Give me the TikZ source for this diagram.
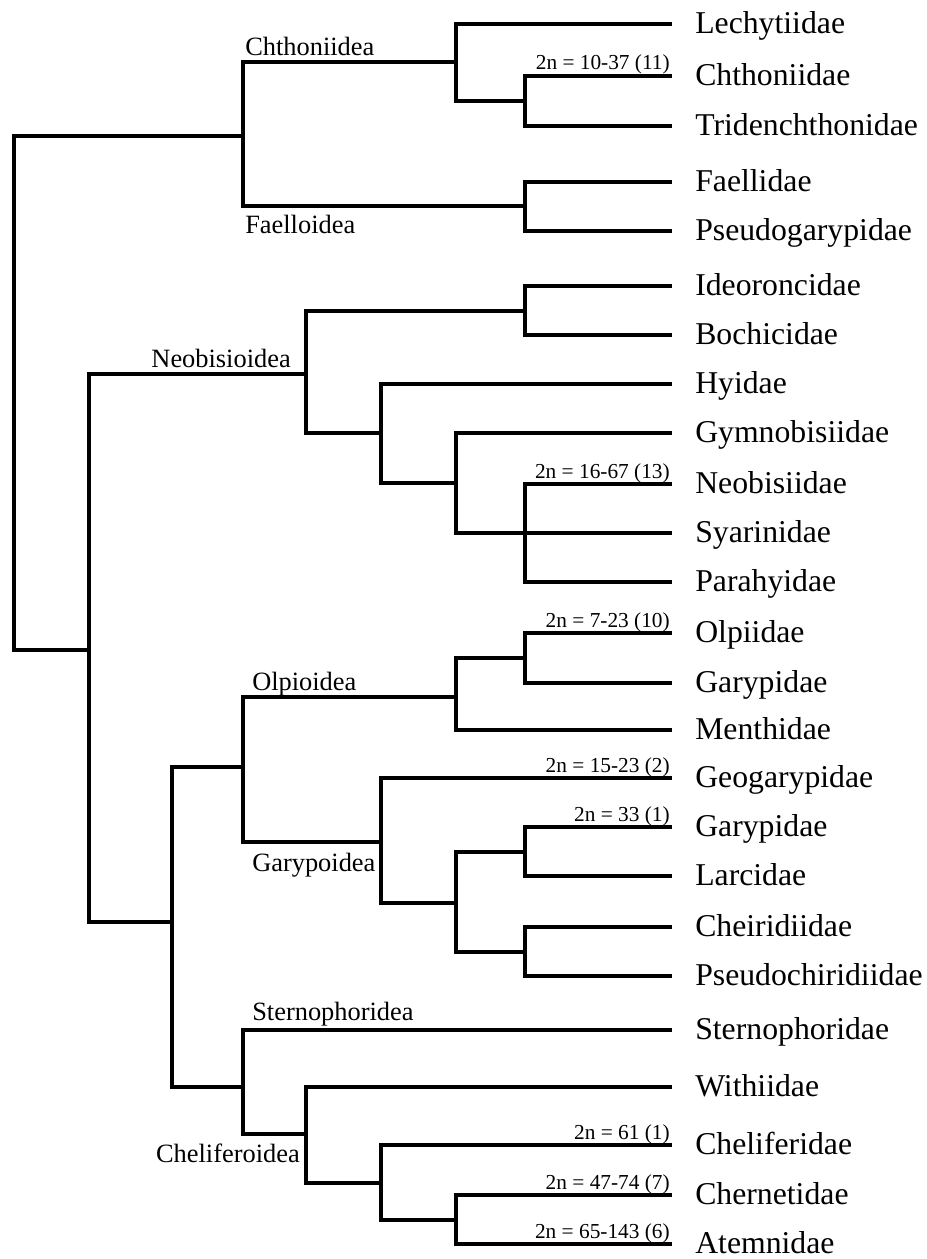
\documentclass[tikz,border=0pt]{standalone}
\usepackage{fontspec}
\setmainfont{Liberation Serif}

\begin{document}
\begin{tikzpicture}[x=0.75pt, y=-0.75pt,
	branch/.style={line width=3.3pt, line join=miter},
	family/.style={anchor=west, inner xsep=17.25pt, inner ysep=0pt, text height=17pt, text depth=3.3pt, font=\fontsize{23.8}{26}\selectfont},
	clade/.style={inner sep=0pt, font=\fontsize{19.8}{22}\selectfont},
	karyo/.style={inner sep=0pt, anchor=base east, font=\fontsize{16}{18}\selectfont}]
	\useasboundingbox (0, 0) rectangle (926, 1259);

	\node[family] (lechytiidae) at (672, 24) {Lechytiidae};
	\node[family] (chthoniidae) at (672, 76) {Chthoniidae};
	\node[family] (tridenchthonidae) at (672, 126) {Tridenchthonidae};
	\node[family] (faellidae) at (672, 182) {Faellidae};
	\node[family] (pseudogarypidae) at (672, 231) {Pseudogarypidae};
	\node[family] (ideoroncidae) at (672, 286) {Ideoroncidae};
	\node[family] (bochicidae) at (672, 335) {Bochicidae};
	\node[family] (hyidae) at (672, 384) {Hyidae};
	\node[family] (gymnobisiidae) at (672, 433) {Gymnobisiidae};
	\node[family] (neobisiidae) at (672, 484) {Neobisiidae};
	\node[family] (syarinidae) at (672, 533) {Syarinidae};
	\node[family] (parahyidae) at (672, 582) {Parahyidae};
	\node[family] (olpiidae) at (672, 633) {Olpiidae};
	\node[family] (garypidae-a) at (672, 683) {Garypidae};
	\node[family] (menthidae) at (672, 730) {Menthidae};
	\node[family] (geogarypidae) at (672, 778) {Geogarypidae};
	\node[family] (garypidae-b) at (672, 827) {Garypidae};
	\node[family] (larcidae) at (672, 876) {Larcidae};
	\node[family] (cheiridiidae) at (672, 927) {Cheiridiidae};
	\node[family] (pseudochiridiidae) at (672, 976) {Pseudochiridiidae};
	\node[family] (sternophoridae) at (672, 1030) {Sternophoridae};
	\node[family] (withiidae) at (672, 1087) {Withiidae};
	\node[family] (cheliferidae) at (672, 1145) {Cheliferidae};
	\node[family] (chernetidae) at (672, 1195) {Chernetidae};
	\node[family] (atemnidae) at (672, 1244) {Atemnidae};

	\coordinate (c-chth) at (525, 101);
	\coordinate (c-lech) at (456, 62);
	\coordinate (c-faell) at (525, 206);
	\coordinate (c-chthoniidea) at (243, 136);
	\coordinate (c-ideor) at (525, 311);
	\coordinate (c-neob) at (525, 533);
	\coordinate (c-gymno) at (456, 483);
	\coordinate (c-hyid) at (381, 433);
	\coordinate (c-neobisioidea) at (306, 374);
	\coordinate (c-olpi) at (525, 658);
	\coordinate (c-olpioidea) at (456, 697);
	\coordinate (c-gary) at (525, 852);
	\coordinate (c-cheir) at (525, 952);
	\coordinate (c-larc) at (456, 903);
	\coordinate (c-garypoidea) at (381, 842);
	\coordinate (c-olpgar) at (243, 767);
	\coordinate (c-chern) at (456, 1220);
	\coordinate (c-chelif) at (381, 1183);
	\coordinate (c-withi) at (306, 1134);
	\coordinate (c-ster) at (243, 1087);
	\coordinate (c-lower) at (172, 922);
	\coordinate (c-mid) at (89, 650);
	\coordinate (c-root) at (14, 393);

	\draw[branch] (c-chth) |- (chthoniidae.west) (c-chth) |- (tridenchthonidae.west);
	\draw[branch] (c-lech) |- (lechytiidae.west) (c-lech) |- (c-chth);
	\draw[branch] (c-faell) |- (faellidae.west) (c-faell) |- (pseudogarypidae.west);
	\draw[branch] (c-chthoniidea) |- (c-lech) (c-chthoniidea) |- (c-faell);
	\draw[branch] (c-ideor) |- (ideoroncidae.west) (c-ideor) |- (bochicidae.west);
	\draw[branch] (c-neob) |- (neobisiidae.west) (c-neob) |- (syarinidae.west) (c-neob) |- (parahyidae.west);
	\draw[branch] (c-gymno) |- (gymnobisiidae.west) (c-gymno) |- (c-neob);
	\draw[branch] (c-hyid) |- (hyidae.west) (c-hyid) |- (c-gymno);
	\draw[branch] (c-neobisioidea) |- (c-ideor) (c-neobisioidea) |- (c-hyid);
	\draw[branch] (c-olpi) |- (olpiidae.west) (c-olpi) |- (garypidae-a.west);
	\draw[branch] (c-olpioidea) |- (c-olpi) (c-olpioidea) |- (menthidae.west);
	\draw[branch] (c-gary) |- (garypidae-b.west) (c-gary) |- (larcidae.west);
	\draw[branch] (c-cheir) |- (cheiridiidae.west) (c-cheir) |- (pseudochiridiidae.west);
	\draw[branch] (c-larc) |- (c-gary) (c-larc) |- (c-cheir);
	\draw[branch] (c-garypoidea) |- (geogarypidae.west) (c-garypoidea) |- (c-larc);
	\draw[branch] (c-olpgar) |- (c-olpioidea) (c-olpgar) |- (c-garypoidea);
	\draw[branch] (c-chern) |- (chernetidae.west) (c-chern) |- (atemnidae.west);
	\draw[branch] (c-chelif) |- (cheliferidae.west) (c-chelif) |- (c-chern);
	\draw[branch] (c-withi) |- (withiidae.west) (c-withi) |- (c-chelif);
	\draw[branch] (c-ster) |- (sternophoridae.west) (c-ster) |- (c-withi);
	\draw[branch] (c-lower) |- (c-olpgar) (c-lower) |- (c-ster);
	\draw[branch] (c-mid) |- (c-neobisioidea) (c-mid) |- (c-lower);
	\draw[branch] (c-root) |- (c-chthoniidea) (c-root) |- (c-mid);

	\node[clade, anchor=base west] (chthoniidea) at (245, 56) {Chthoniidea};
	\node[clade, anchor=base west] (faelloidea) at (245, 233) {Faelloidea};
	\node[clade, anchor=base east] (neobisioidea) at (291, 367) {Neobisioidea};
	\node[clade, anchor=base west] (olpioidea) at (252, 690) {Olpioidea};
	\node[clade, anchor=base west] (garypoidea) at (252, 871) {Garypoidea};
	\node[clade, anchor=base west] (sternophoridea) at (252, 1020) {Sternophoridea};
	\node[clade, anchor=base east] (cheliferoidea) at (300, 1162) {Cheliferoidea};

	\node[karyo] (k-chthoniidae) at (670, 70) {2n = 10-37 (11)};
	\node[karyo] (k-neobisiidae) at (670, 478) {2n = 16-67 (13)};
	\node[karyo] (k-olpiidae) at (670, 627) {2n = 7-23 (10)};
	\node[karyo] (k-geogarypidae) at (670, 772) {2n = 15-23 (2)};
	\node[karyo] (k-garypidae) at (670, 821) {2n = 33 (1)};
	\node[karyo] (k-cheliferidae) at (670, 1139) {2n = 61 (1)};
	\node[karyo] (k-chernetidae) at (670, 1189) {2n = 47-74 (7)};
	\node[karyo] (k-atemnidae) at (670, 1238) {2n = 65-143 (6)};
\end{tikzpicture}
\end{document}
